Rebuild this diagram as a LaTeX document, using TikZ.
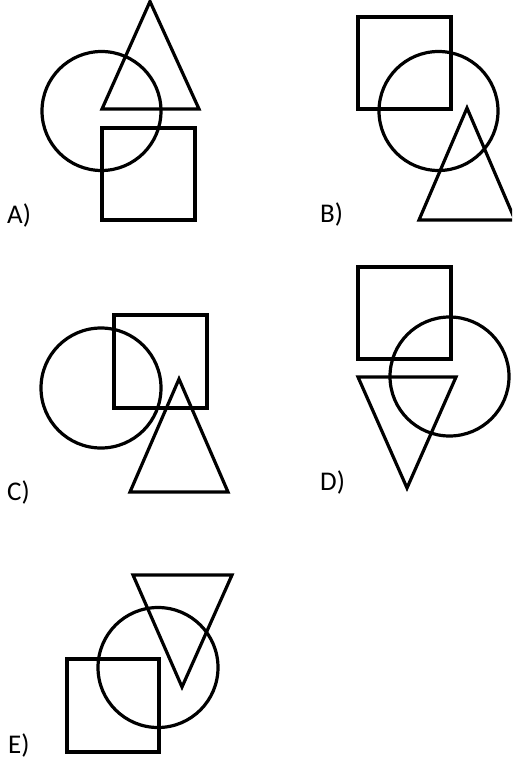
\documentclass[tikz,border=0pt]{standalone}
\usepackage{fontspec}
\setmainfont{Carlito}
\begin{document}
\begin{tikzpicture}[x=1pt,y=-1pt,
  shape line/.style={draw=black,line width=3.2pt,line join=miter},
  optlabel/.style={anchor=base west,inner sep=0pt,font=\fontsize{27}{27}\selectfont}]
\useasboundingbox (0,0) rectangle (512,765);
\clip (0,0) rectangle (512,765);
% A
\draw[shape line] (101.5,111) circle[radius=59.5];
\draw[shape line] (150,1.5) -- (199,109) -- (102,109) -- cycle;
\draw[shape line] (102,128) rectangle (195,220);
\node[optlabel] (la) at (7,223) {A)};
% B
\draw[shape line] (358,17) rectangle (451,109);
\draw[shape line] (438.5,111) circle[radius=59.5];
\draw[shape line] (467,108) -- (515,220) -- (419,220) -- cycle;
\node[optlabel] (lb) at (320,222) {B)};
% C
\draw[shape line] (101,388) circle[radius=60];
\draw[shape line] (114,315) rectangle (207,408);
\draw[shape line] (179,379) -- (228,492) -- (130,492) -- cycle;
\node[optlabel] (lc) at (7,500) {C)};
% D
\draw[shape line] (358,267) rectangle (451,359);
\draw[shape line] (449.5,376.5) circle[radius=59.5];
\draw[shape line] (358,377) -- (456,377) -- (407,488) -- cycle;
\node[optlabel] (ld) at (320,490) {D)};
% E
\draw[shape line] (133,575) -- (232,575) -- (182,687) -- cycle;
\draw[shape line] (158,667.5) circle[radius=60];
\draw[shape line] (67,659) rectangle (159,752);
\node[optlabel] (le) at (8,753) {E)};
\end{tikzpicture}
\end{document}
